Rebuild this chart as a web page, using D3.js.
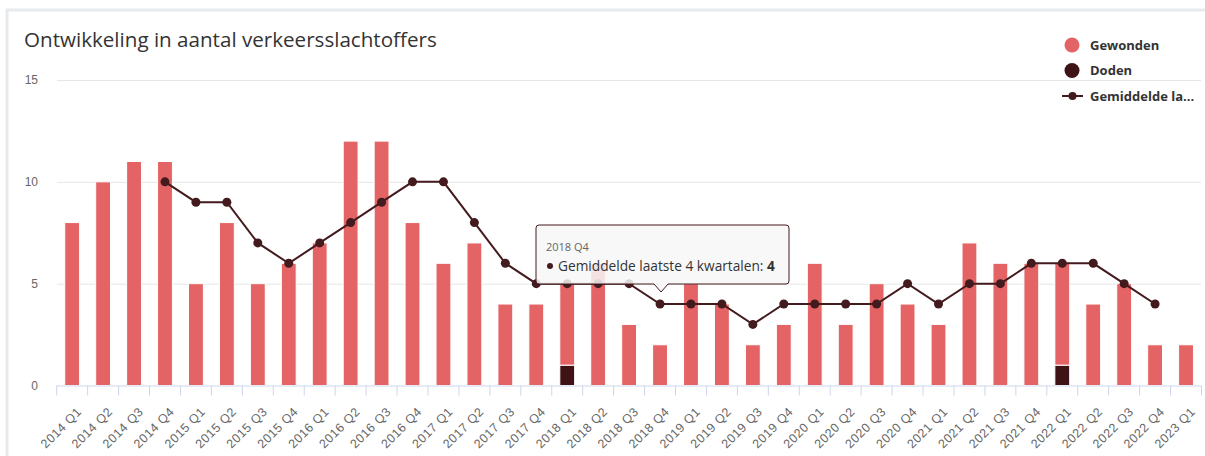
<!DOCTYPE html>
<html>
<head>
<meta charset="utf-8">
<script src="https://cdn.jsdelivr.net/npm/d3@7"></script>
<style>
  body { margin: 0; background: #fff; }
  svg { display: block; font-family: "Open Sans", "Noto Sans", sans-serif; }
</style>
</head>
<body>
<div id="chart"></div>
<script>
"use strict";

// data
var quarters = ["2014 Q1","2014 Q2","2014 Q3","2014 Q4","2015 Q1","2015 Q2","2015 Q3","2015 Q4",
  "2016 Q1","2016 Q2","2016 Q3","2016 Q4","2017 Q1","2017 Q2","2017 Q3","2017 Q4",
  "2018 Q1","2018 Q2","2018 Q3","2018 Q4","2019 Q1","2019 Q2","2019 Q3","2019 Q4",
  "2020 Q1","2020 Q2","2020 Q3","2020 Q4","2021 Q1","2021 Q2","2021 Q3","2021 Q4",
  "2022 Q1","2022 Q2","2022 Q3","2022 Q4","2023 Q1"];
var gewonden = [8,10,11,11, 5,8,5,6, 7,12,12,8, 6,7,4,4, 4,6,3,2, 5,4,2,3, 6,3,5,4, 3,7,6,6, 5,4,5,2, 2];
var doden    = [0,0,0,0, 0,0,0,0, 0,0,0,0, 0,0,0,0, 1,0,0,0, 0,0,0,0, 0,0,0,0, 0,0,0,0, 1,0,0,0, 0];
var gemiddelde = [null,null,null,10, 9,9,7,6, 7,8,9,10, 10,8,6,5, 5,5,5,4, 4,4,3,4, 4,4,4,5, 4,5,5,6, 6,6,5,4, null];
var yTicks = [0, 5, 10, 15];
var legendLabels = ["Gewonden", "Doden", "Gemiddelde la..."];
var tooltipIndex = 19;
var tooltipLabel = "Gemiddelde laatste 4 kwartalen: ";

var W = 1205, H = 456;
var red = "#e46465", dark = "#3f1216", lineCol = "#431a1d";

var svg = d3.select("#chart").append("svg")
  .attr("width", W).attr("height", H);

// card frame
svg.append("rect").attr("x", 0).attr("y", 0).attr("width", W).attr("height", H).attr("fill", "#fff");
svg.append("rect").attr("x", 7).attr("y", 10).attr("width", W).attr("height", H)
  .attr("fill", "#fff").attr("stroke", "#e6eaec").attr("stroke-width", 3);

// title
svg.append("text").attr("x", 24).attr("y", 47)
  .attr("fill", "#333").style("font-size", "20.6px")
  .text("Ontwikkeling in aantal verkeersslachtoffers");

// scales
var x = d3.scaleBand().domain(quarters).range([56.7, 1201.5])
  .paddingInner(0.52).paddingOuter(0.26);
var step = x.step();
var y = d3.scaleLinear().domain([0, 15]).range([385.5, 80]);

// grid + y labels
var yAxis = d3.axisLeft(y).tickValues(yTicks).tickSize(-(1201 - 57)).tickPadding(19);
var gy = svg.append("g").attr("transform", "translate(57,0)").call(yAxis);
gy.select(".domain").remove();
gy.selectAll(".tick line").attr("stroke", "#e6e6e6").filter(function (d) { return d === 0; }).remove();
gy.selectAll(".tick text").attr("fill", "#666").style("font-size", "12px").style("font-family", "inherit");

// stacked bars
var rows = quarters.map(function (q, i) { return { q: q, doden: doden[i], gewonden: gewonden[i] }; });
var stack = d3.stack().keys(["doden", "gewonden"])(rows);
var colors = { doden: dark, gewonden: red };

svg.append("g").selectAll("g").data(stack).join("g")
  .attr("fill", function (s) { return colors[s.key]; })
  .selectAll("rect").data(function (s) { return s.filter(function (d) { return d[1] > d[0]; }); })
  .join("rect")
  .attr("x", function (d) { return x(d.data.q); })
  .attr("width", x.bandwidth())
  .attr("y", function (d) { return y(d[1]); })
  .attr("height", function (d) { return y(d[0]) - y(d[1]); })
  .attr("stroke", "#fff").attr("stroke-width", 1);

// x axis
var xAxis = d3.axisBottom(x).tickSize(0).tickPadding(0);
var gx = svg.append("g").attr("transform", "translate(0,385.5)").call(xAxis);
gx.select(".domain").attr("stroke", "#ccd6eb").attr("d", "M56.7,0.5H1201.5");
gx.selectAll(".tick text")
  .attr("fill", "#666").style("font-size", "12.5px").style("font-family", "inherit")
  .style("letter-spacing", "0.5px")
  .attr("text-anchor", "end")
  .attr("transform", "translate(7,24) rotate(-45)")
  .attr("dy", "0.35em").attr("y", 0);
// boundary ticks
var bounds = quarters.map(function (q) { return x(q) + x.bandwidth() / 2 - step / 2; });
bounds.push(x(quarters[quarters.length - 1]) + x.bandwidth() / 2 + step / 2);
gx.selectAll(".btick").data(bounds).join("line").attr("class", "btick")
  .attr("x1", function (d) { return d; }).attr("x2", function (d) { return d; })
  .attr("y1", 0).attr("y2", 10).attr("stroke", "#ccd6eb");

// average line
var cx = function (i) { return x(quarters[i]) + x.bandwidth() / 2; };
var pts = gemiddelde.map(function (v, i) { return { i: i, v: v }; }).filter(function (d) { return d.v !== null; });
svg.append("path").datum(pts)
  .attr("fill", "none").attr("stroke", lineCol).attr("stroke-width", 2)
  .attr("d", d3.line().x(function (d) { return cx(d.i); }).y(function (d) { return y(d.v); }));
svg.append("g").selectAll("circle").data(pts).join("circle")
  .attr("cx", function (d) { return cx(d.i); }).attr("cy", function (d) { return y(d.v); })
  .attr("r", 4.5).attr("fill", lineCol);

// legend
var lg = svg.append("g").style("font-size", "13px").style("font-weight", "bold").attr("fill", "#333");
lg.append("circle").attr("cx", 1072).attr("cy", 45).attr("r", 7.5).attr("fill", red);
lg.append("circle").attr("cx", 1072).attr("cy", 70.5).attr("r", 7.5).attr("fill", dark);
lg.append("line").attr("x1", 1062).attr("x2", 1083).attr("y1", 96).attr("y2", 96)
  .attr("stroke", lineCol).attr("stroke-width", 2);
lg.append("circle").attr("cx", 1072.5).attr("cy", 96).attr("r", 4).attr("fill", lineCol);
[45, 70.5, 96].forEach(function (ly, k) {
  lg.append("text").attr("x", 1090).attr("y", ly).attr("dy", "0.35em").text(legendLabels[k]);
});

// tooltip on 2018 Q4
var tx = cx(tooltipIndex), ty = y(gemiddelde[tooltipIndex]);
var bx = 536, by = 225, bw = 253, bh = 59, tip = ty - 12;
var tt = svg.append("g");
tt.append("path")
  .attr("d", "M" + (bx + 3) + "," + by + "H" + (bx + bw - 3) + "Q" + (bx + bw) + "," + by + " " + (bx + bw) + "," + (by + 3) +
    "V" + (by + bh - 3) + "Q" + (bx + bw) + "," + (by + bh) + " " + (bx + bw - 3) + "," + (by + bh) +
    "H" + (tx + 8) + "L" + (tx + 1) + "," + tip + "L" + (tx - 6) + "," + (by + bh) +
    "H" + (bx + 3) + "Q" + bx + "," + (by + bh) + " " + bx + "," + (by + bh - 3) +
    "V" + (by + 3) + "Q" + bx + "," + by + " " + (bx + 3) + "," + by + "Z")
  .attr("fill", "rgba(247,247,247,0.85)").attr("stroke", lineCol).attr("stroke-width", 1);
tt.append("text").attr("x", 546).attr("y", 247).attr("dy", "0.35em")
  .attr("fill", "#666").style("font-size", "11px").text(quarters[tooltipIndex]);
tt.append("circle").attr("cx", 550).attr("cy", 266).attr("r", 3).attr("fill", lineCol);
var t2 = tt.append("text").attr("x", 558).attr("y", 266).attr("dy", "0.35em")
  .attr("fill", "#333").style("font-size", "13.7px");
t2.append("tspan").text(tooltipLabel);
t2.append("tspan").style("font-weight", "bold").text(gemiddelde[tooltipIndex]);
</script>
</body>
</html>
